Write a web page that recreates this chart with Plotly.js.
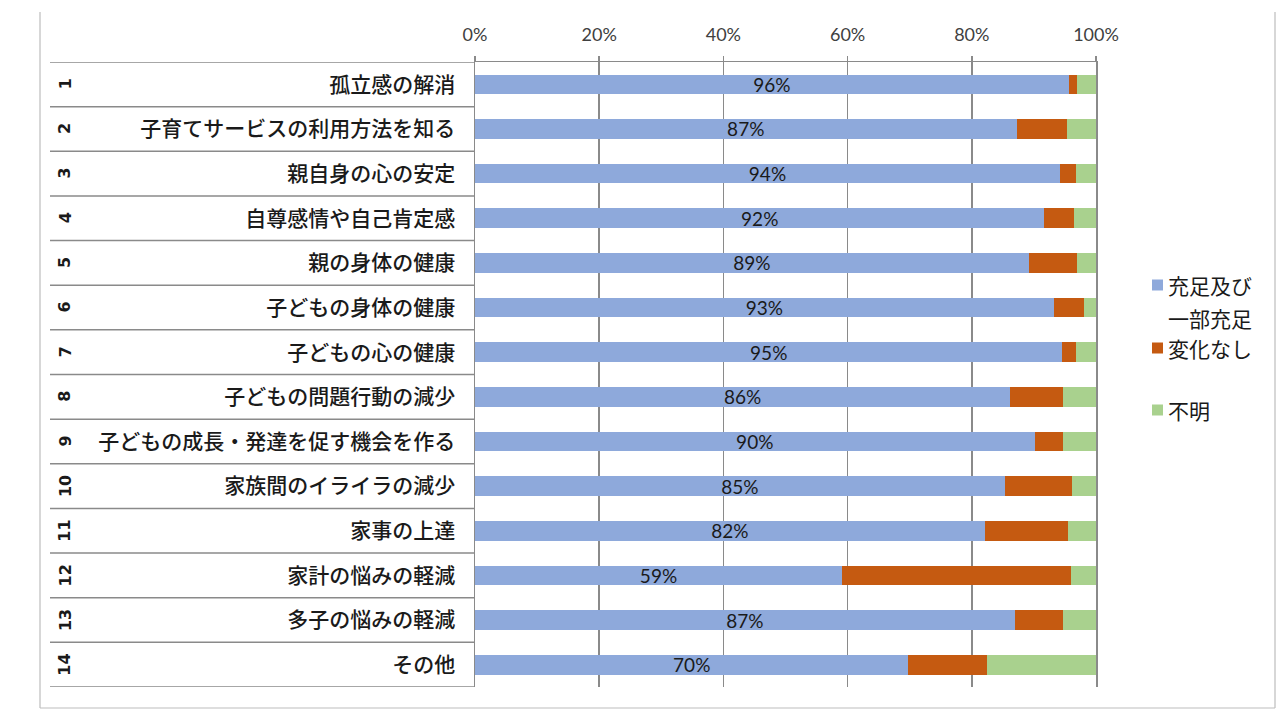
<!DOCTYPE html>
<html>
<head>
<meta charset="utf-8">
<script src="https://cdn.plot.ly/plotly-3.0.1.min.js"></script>
<style>html,body{margin:0;padding:0;background:#fff}#chart{width:1280px;height:710px}</style>
</head>
<body>
<div id="chart"></div>
<script>
const rowNumbers = [1,2,3,4,5,6,7,8,9,10,11,12,13,14];
const categories = [
  "孤立感の解消",
  "子育てサービスの利用方法を知る",
  "親自身の心の安定",
  "自尊感情や自己肯定感",
  "親の身体の健康",
  "子どもの身体の健康",
  "子どもの心の健康",
  "子どもの問題行動の減少",
  "子どもの成長・発達を促す機会を作る",
  "家族間のイライラの減少",
  "家事の上達",
  "家計の悩みの軽減",
  "多子の悩みの軽減",
  "その他"
];
const satisfied = [95.6, 87.2, 94.2, 91.7, 89.2, 93.2, 94.6, 86.2, 90.1, 85.3, 82.1, 59.1, 86.9, 69.8];
const noChange  = [1.4, 8.1, 2.5, 4.8, 7.7, 4.9, 2.2, 8.5, 4.6, 10.8, 13.4, 36.9, 7.8, 12.6];
const unknown   = [3.0, 4.7, 3.3, 3.5, 3.1, 1.9, 3.2, 5.3, 5.3, 3.9, 4.5, 4.0, 5.3, 17.6];
const seriesNames = ["充足及び一部充足", "変化なし", "不明"];
const legendLines = [["充足及び", "一部充足"], ["変化なし"], ["不明"]];
const xTickVals = [0, 20, 40, 60, 80, 100];
const xTickText = ["0%", "20%", "40%", "60%", "80%", "100%"];

const colors = ["#8EA9DB", "#C55A11", "#A9D18E"];
const barW = 0.44;

const traces = [
  {type:"bar", orientation:"h", y:rowNumbers, x:satisfied, name:seriesNames[0],
   marker:{color:colors[0]}, width:barW,
   text: satisfied.map(v => Math.round(v) + "%"), textposition:"inside",
   insidetextanchor:"middle", textangle:0, constraintext:"none",
   textfont:{family:"Lato, 'Open Sans', sans-serif", size:19, color:"#1a1a1a"}},
  {type:"bar", orientation:"h", y:rowNumbers, x:noChange, name:seriesNames[1],
   marker:{color:colors[1]}, width:barW, textposition:"none"},
  {type:"bar", orientation:"h", y:rowNumbers, x:unknown, name:seriesNames[2],
   marker:{color:colors[2]}, width:barW, textposition:"none"}
];

const L = 475, R = 1096, T = 62, B = 687;
const PW = R - L, PH = B - T;
const px = x => (x - L) / PW;
const py = y => (B - y) / PH;

const gray = "#8a8a8a";
const shapes = [];
for (let i = 0; i <= rowNumbers.length; i++) {
  shapes.push({type:"line", xref:"paper", yref:"y", x0:px(50), x1:0, y0:i+0.5, y1:i+0.5,
    line:{color:gray, width:1.5}});
}
// outer frame
const frameCol = "#bdbdbd";
shapes.push({type:"line", xref:"paper", yref:"paper", x0:px(40), x1:px(40), y0:py(708), y1:py(12), line:{color:frameCol, width:1.2}});
shapes.push({type:"line", xref:"paper", yref:"paper", x0:px(1275), x1:px(1275), y0:py(708), y1:py(12), line:{color:frameCol, width:1.2}});
shapes.push({type:"line", xref:"paper", yref:"paper", x0:px(40), x1:px(1275), y0:py(708), y1:py(708), line:{color:frameCol, width:1.2}});

const annotations = rowNumbers.map(n => ({
  xref:"paper", yref:"y", x:px(65), y:n, text:String(n), showarrow:false,
  textangle:-90, xanchor:"center", yanchor:"middle",
  font:{family:"'DejaVu Sans', sans-serif", size:16, color:"#1a1a1a", weight:700}
}));

// manual legend (Excel-like spacing)
const legendY = [285, 348, 410];
const lineGap = 33;
for (let i = 0; i < 3; i++) {
  shapes.push({type:"rect", xref:"paper", yref:"paper",
    x0:px(1152), x1:px(1163), y0:py(legendY[i] + 5.5), y1:py(legendY[i] - 5.5),
    line:{width:0}, fillcolor:colors[i]});
  legendLines[i].forEach((t, j) => {
    annotations.push({xref:"paper", yref:"paper", x:px(1166), y:py(legendY[i] + j * lineGap),
      text:t, showarrow:false, xanchor:"left", yanchor:"middle", align:"left",
      font:{family:"'Noto Sans CJK JP', sans-serif", size:21, color:"#1a1a1a"}});
  });
}

const layout = {
  width:1280, height:710,
  margin:{l:L, r:1280 - R, t:T, b:710 - B},
  paper_bgcolor:"#fff", plot_bgcolor:"#fff",
  barmode:"stack",
  showlegend:false,
  xaxis:{side:"top", range:[0,100], tickvals:xTickVals, ticktext:xTickText,
    showgrid:true, gridcolor:gray, gridwidth:1.5, zeroline:false,
    showline:true, linecolor:gray, linewidth:1.5,
    ticks:"outside", ticklen:5, tickcolor:gray, tickwidth:1.5, ticklabelstandoff:7,
    tickfont:{family:"Lato, 'Open Sans', sans-serif", size:18, color:"#404040"},
    fixedrange:true},
  yaxis:{range:[14.5, 0.5], tickvals:rowNumbers, ticktext:categories,
    showgrid:false, zeroline:false, showline:true, mirror:true, linecolor:gray, linewidth:1.5,
    ticks:"", ticklabelstandoff:14,
    tickfont:{family:"'Noto Sans CJK JP', sans-serif", size:21, color:"#1a1a1a", weight:500},
    fixedrange:true},
  shapes:shapes,
  annotations:annotations,
  hovermode:false
};

Plotly.newPlot("chart", traces, layout, {displayModeBar:false, staticPlot:true});
</script>
</body>
</html>
